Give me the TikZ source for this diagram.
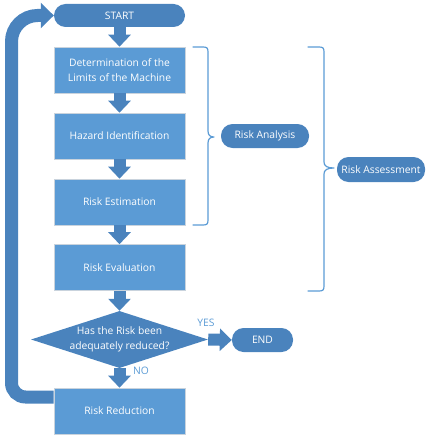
\documentclass[tikz,border=0pt]{standalone}
\usepackage{fontspec}
\setmainfont{Open Sans}
\usetikzlibrary{arrows.meta,shapes.geometric,calc}
\definecolor{boxblue}{HTML}{5B9BD5}
\definecolor{darkblue}{HTML}{4A83BD}
\definecolor{edgegray}{HTML}{C9D3DD}
\begin{document}
\begin{tikzpicture}[x=1pt,y=-1pt,
  every node/.style={font=\fontsize{10.3}{14.5}\selectfont, text=white},
  stepbox/.style={rectangle, fill=boxblue, draw=edgegray, line width=0.6pt, minimum width=131pt, minimum height=46pt, inner sep=0pt, align=center},
  pill/.style={rectangle, rounded corners=11.5pt, fill=darkblue, minimum height=24pt, inner sep=0pt, align=center},
  decision/.style={diamond, aspect=3.1, fill=darkblue, minimum width=177pt, minimum height=57pt, inner sep=-6pt, align=center},
  blockarrow/.style={draw=darkblue, line width=12pt, -{Triangle[length=12pt,width=22pt]}, shorten >=0pt},
  looparrow/.style={draw=darkblue, line width=13pt, -{Triangle[length=13pt,width=25pt]}},
  bracket/.style={draw=boxblue, line width=1.2pt, line cap=round, line join=round},
  lbl/.style={text=boxblue, inner sep=0pt}
]
\useasboundingbox (0,0) rectangle (430,441);

\node[pill, minimum width=131pt, minimum height=23pt] (start) at (119.5,15.5) {START};
\node[stepbox] (b1) at (119.5,70) {Determination of the\\Limits of the Machine};
\node[stepbox] (b2) at (119.5,136) {Hazard Identification};
\node[stepbox] (b3) at (119.5,202) {Risk Estimation};
\node[stepbox] (b4) at (119.5,267.5) {Risk Evaluation};
\node[decision] (dia) at (119.5,339.5) {Has the Risk been\\adequately reduced?};
\node[stepbox] (rr) at (119.5,411) {Risk Reduction};
\node[pill, minimum width=61pt] (end) at (262.5,340) {END};
\node[pill, minimum width=88pt] (ra) at (265,136) {Risk Analysis};
\node[pill, minimum width=88pt, minimum height=25pt] (rass) at (381,169.5) {Risk Assessment};

\node[lbl] (yes) at (206,323) {YES};
\node[lbl] (no) at (141,371) {NO};

\draw[blockarrow] (start.south) -- (b1.north);
\draw[blockarrow] (b1.south) -- (b2.north);
\draw[blockarrow] (b2.south) -- (b3.north);
\draw[blockarrow] (b3.south) -- (b4.north);
\draw[blockarrow] (b4.south) -- (dia.north);
\draw[blockarrow] (dia.south) -- (rr.north);
\draw[blockarrow] (dia.east) -- (end.west);

\coordinate (lb) at (11.5,397);
\coordinate (lt) at (11.5,15.5);
\draw[looparrow] (rr.west |- lb) -- ($(lb)+(14,0)$)
  .. controls ($(lb)+(6.3,0)$) and ($(lb)+(0,-6.3)$) .. ($(lb)+(0,-14)$)
  -- ($(lt)+(0,26)$)
  .. controls ($(lt)+(0,11.7)$) and ($(lt)+(11.7,0)$) .. ($(lt)+(26,0)$)
  -- (start.west);

% Risk Analysis brace
\draw[bracket] (193,47) -- (203,47) .. controls (207,47) and (208,48) .. (208,52)
  -- (208,131) .. controls (208,135) and (210,137) .. (214,137)
  .. controls (210,137) and (208,139) .. (208,143)
  -- (208,220) .. controls (208,224) and (207,225) .. (203,225) -- (193,225);
% Risk Assessment brace
\draw[bracket] (308,47) -- (319,47) .. controls (323,47) and (324,48) .. (324,52)
  -- (324,162) .. controls (324,166) and (327,168) .. (334,168)
  .. controls (327,168) and (324,170) .. (324,174)
  -- (324,286) .. controls (324,290) and (323,291) .. (319,291) -- (308,291);
\end{tikzpicture}
\end{document}
